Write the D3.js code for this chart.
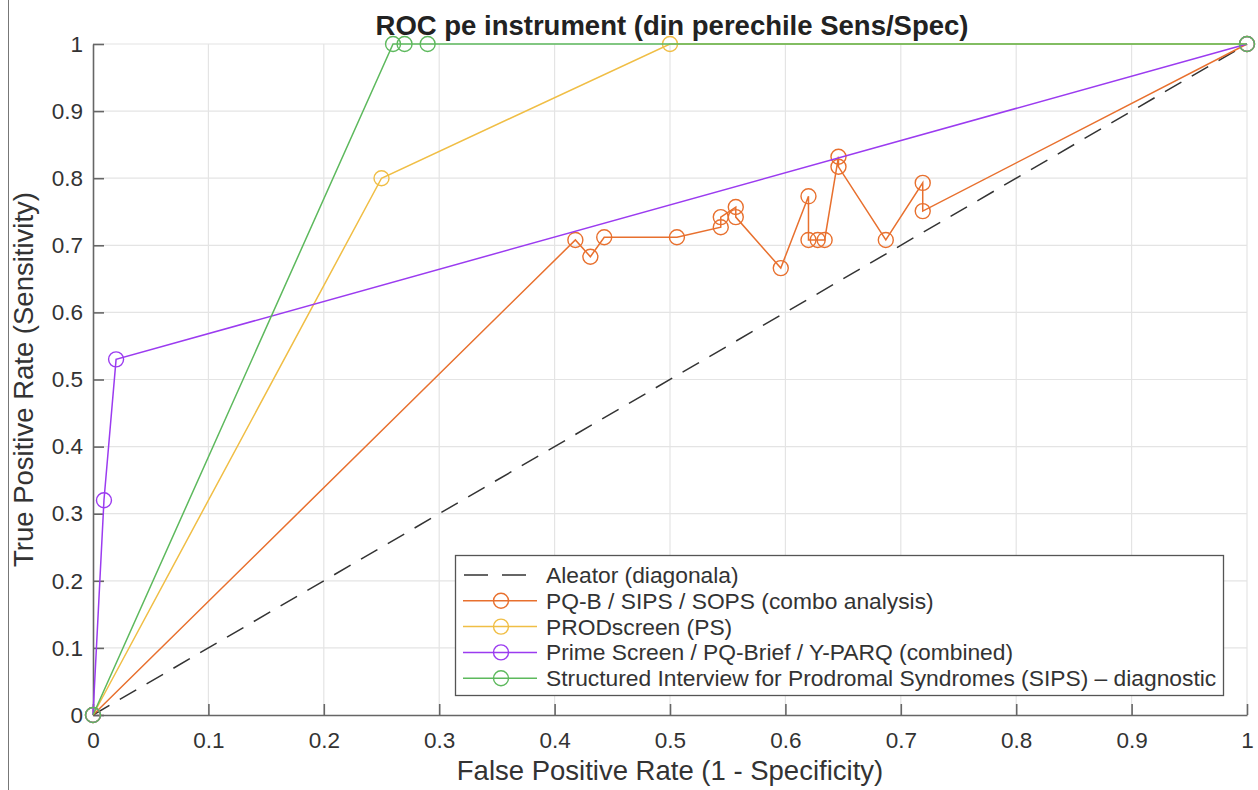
<!DOCTYPE html>
<html>
<head>
<meta charset="utf-8">
<script src="https://cdn.jsdelivr.net/npm/d3@7"></script>
<style>
  html, body { margin: 0; padding: 0; background: #fff; }
  svg { display: block; font-family: "Liberation Sans", Arial, sans-serif; }
</style>
</head>
<body>
<svg id="chart" width="1258" height="790"></svg>
<script>
// ROC points per instrument (FPR = 1 - Specificity, TPR = Sensitivity)
const pqbFpr  = [0, 0.418, 0.431, 0.443, 0.506, 0.544, 0.544, 0.557, 0.557, 0.596, 0.620, 0.620, 0.628, 0.634, 0.646, 0.646, 0.687, 0.719, 0.719, 1];
const pqbTpr  = [0, 0.708, 0.683, 0.712, 0.712, 0.727, 0.742, 0.757, 0.742, 0.666, 0.773, 0.708, 0.708, 0.708, 0.832, 0.817, 0.708, 0.793, 0.751, 1];
const psFpr   = [0, 0.25, 0.5, 1];
const psTpr   = [0, 0.80, 1, 1];
const primeFpr = [0, 0.0095, 0.02, 1];
const primeTpr = [0, 0.32, 0.53, 1];
const sipsFpr = [0, 0.26, 0.27, 0.29, 1];
const sipsTpr = [0, 1, 1, 1, 1];

const seriesNames = [
  "PQ-B / SIPS / SOPS (combo analysis)",
  "PRODscreen (PS)",
  "Prime Screen / PQ-Brief / Y-PARQ (combined)",
  "Structured Interview for Prodromal Syndromes (SIPS) \u2013 diagnostic"
];
const seriesColors = ["#E8702E", "#F0BE45", "#9B3BF0", "#5DB95D"];
const chanceName = "Aleator (diagonala)";
const tickValues = [0, 0.1, 0.2, 0.3, 0.4, 0.5, 0.6, 0.7, 0.8, 0.9, 1];
const tickLabels = ["0", "0.1", "0.2", "0.3", "0.4", "0.5", "0.6", "0.7", "0.8", "0.9", "1"];

const series = [
  { fpr: pqbFpr, tpr: pqbTpr },
  { fpr: psFpr, tpr: psTpr },
  { fpr: primeFpr, tpr: primeTpr },
  { fpr: sipsFpr, tpr: sipsTpr }
].map((s, i) => ({
  name: seriesNames[i],
  color: seriesColors[i],
  pts: s.fpr.map((f, j) => [f, s.tpr[j]])
}));

const svg = d3.select("#chart");
const plotLeft = 93, plotRight = 1247, plotTop = 44, plotBottom = 715;

const x = d3.scaleLinear().domain([0, 1]).range([plotLeft, plotRight]);
const y = d3.scaleLinear().domain([0, 1]).range([plotBottom, plotTop]);

// window edge line
svg.append("line").attr("x1", 8.5).attr("x2", 8.5).attr("y1", 0).attr("y2", 790)
  .attr("stroke", "#777").attr("stroke-width", 1);

// grid
const grid = svg.append("g");
grid.selectAll(".gx").data(tickValues.slice(1)).join("line")
  .attr("x1", d => x(d)).attr("x2", d => x(d)).attr("y1", plotTop).attr("y2", plotBottom)
  .attr("stroke", "#e4e4e4").attr("stroke-width", 1.2);
grid.selectAll(".gy").data(tickValues.slice(1)).join("line")
  .attr("x1", plotLeft).attr("x2", plotRight).attr("y1", d => y(d)).attr("y2", d => y(d))
  .attr("stroke", "#e4e4e4").attr("stroke-width", 1.2);

// axes with inward ticks
const fmt = d => tickLabels[tickValues.indexOf(d)];
const xAxis = d3.axisBottom(x).tickValues(tickValues).tickFormat(fmt).tickSizeInner(-11).tickSizeOuter(0).tickPadding(17);
const yAxis = d3.axisLeft(y).tickValues(tickValues).tickFormat(fmt).tickSizeInner(-11).tickSizeOuter(0).tickPadding(10);

const gx = svg.append("g").attr("transform", `translate(0,${plotBottom})`).call(xAxis);
const gy = svg.append("g").attr("transform", `translate(${plotLeft},0)`).call(yAxis);
[gx, gy].forEach(g => {
  g.select(".domain").attr("stroke", "#666").attr("stroke-width", 1.6);
  g.selectAll(".tick line").attr("stroke", "#666").attr("stroke-width", 1.6);
  g.selectAll(".tick text").attr("fill", "#333").attr("font-size", 22.5)
    .attr("font-family", "'Liberation Sans', Arial, sans-serif");
});
gx.selectAll(".tick text").attr("dy", "0.71em");

const line = d3.line().x(d => x(d[0])).y(d => y(d[1]));

// chance diagonal
const plot = svg.append("g");
plot.append("path").datum([[0, 0], [1, 1]]).attr("d", line)
  .attr("fill", "none").attr("stroke", "#333").attr("stroke-width", 1.5)
  .attr("stroke-dasharray", "19,12");

// instrument curves
series.forEach(s => {
  const g = plot.append("g");
  g.append("path").datum(s.pts).attr("d", line)
    .attr("fill", "none").attr("stroke", s.color).attr("stroke-width", 1.5);
  g.selectAll("circle").data(s.pts).join("circle")
    .attr("cx", d => x(d[0])).attr("cy", d => y(d[1])).attr("r", 7.5)
    .attr("fill", "none").attr("stroke", s.color).attr("stroke-width", 1.4);
});

// title and axis labels
svg.append("text").attr("x", 672).attr("y", 35).attr("text-anchor", "middle")
  .attr("font-size", 27.5).attr("font-weight", "bold").attr("fill", "#222")
  .text("ROC pe instrument (din perechile Sens/Spec)");
svg.append("text").attr("x", 670).attr("y", 780).attr("text-anchor", "middle")
  .attr("font-size", 27.5).attr("fill", "#333")
  .text("False Positive Rate (1 - Specificity)");
svg.append("text").attr("transform", `translate(33,${(plotTop + plotBottom) / 2}) rotate(-90)`)
  .attr("text-anchor", "middle").attr("font-size", 27.5).attr("fill", "#333")
  .text("True Positive Rate (Sensitivity)");

// legend
const lgX = 455, lgY = 555, lgW = 768, lgH = 140, rowH = 25.8;
const lg = svg.append("g");
lg.append("rect").attr("x", lgX + 0.5).attr("y", lgY + 0.5).attr("width", lgW).attr("height", lgH)
  .attr("fill", "#fff").attr("stroke", "#555").attr("stroke-width", 1.3);
const entries = [{ name: chanceName, color: "#333", dashed: true }]
  .concat(series.map(s => ({ name: s.name, color: s.color, dashed: false })));
entries.forEach((e, i) => {
  const cy = lgY + 20 + i * rowH;
  const row = lg.append("g");
  if (e.dashed) {
    row.append("line").attr("x1", lgX + 9).attr("x2", lgX + 73).attr("y1", cy).attr("y2", cy)
      .attr("stroke", e.color).attr("stroke-width", 1.5).attr("stroke-dasharray", "24,14");
  } else {
    row.append("line").attr("x1", lgX + 8).attr("x2", lgX + 82).attr("y1", cy).attr("y2", cy)
      .attr("stroke", e.color).attr("stroke-width", 1.5);
    row.append("circle").attr("cx", lgX + 46).attr("cy", cy).attr("r", 7.5)
      .attr("fill", "none").attr("stroke", e.color).attr("stroke-width", 1.4);
  }
  row.append("text").attr("x", lgX + 91).attr("y", cy).attr("dy", "0.35em")
    .attr("font-size", 22.8).attr("fill", "#333").text(e.name);
});
</script>
</body>
</html>
